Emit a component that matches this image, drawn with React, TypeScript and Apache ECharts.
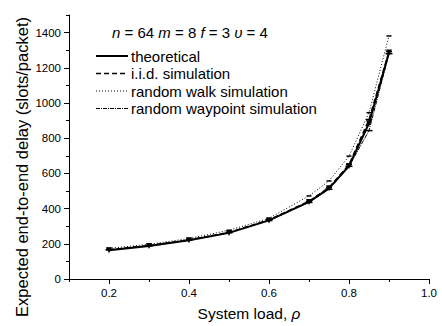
import React, { useEffect, useRef } from "react";
import * as echarts from "echarts";

const loads = [0.2, 0.3, 0.4, 0.5, 0.6, 0.7, 0.75, 0.8, 0.85, 0.9];
const theoretical = [164, 188, 220, 262, 333, 438, 515, 642, 885, 1287];
const iidSim = [166, 190, 222, 265, 336, 442, 520, 650, 906, 1292];
const randomWalkSim = [174, 197, 230, 277, 345, 472, 557, 698, 945, 1381];
const waypointSim = [166, 189, 221, 263, 332, 435, 510, 640, 843, 1280];
const seriesNames = [
  "theoretical",
  "i.i.d. simulation",
  "random walk simulation",
  "random waypoint simulation",
];
const xMajorTicks = [0.2, 0.4, 0.6, 0.8, 1.0];
const yMajorTicks = [0, 200, 400, 600, 800, 1000, 1200, 1400];

const FONT = "Liberation Sans, Arial, sans-serif";

const pairs = (ys: number[]) => loads.map((x, i) => [x, ys[i]]);

export default function App() {
  const ref = useRef<HTMLDivElement>(null);
  useEffect(() => {
    if (!ref.current) return;
    const chart = echarts.init(ref.current, undefined, { renderer: "svg" });
    const styles = [
      { width: 2, type: "solid" as any, symbol: "triangle", symbolSize: 6, symbolRotate: 180 },
      { width: 1.5, type: [5, 3] as any, symbol: "rect", symbolSize: [6, 1.5], symbolRotate: 0 },
      { width: 1, type: [1, 2] as any, symbol: "rect", symbolSize: [5, 1.5], symbolRotate: 0 },
      { width: 1, type: [4, 1, 1, 1] as any, symbol: "rect", symbolSize: [7, 1.5], symbolRotate: 0 },
    ];
    const datas = [theoretical, iidSim, randomWalkSim, waypointSim];
    const legendRowsY = [56, 73.5, 91, 108.5];
    const legendDash: any[] = [null, [5, 3], [1, 2], [4, 1, 1, 1]];
    const legendWidth = [2, 1.5, 1, 1];
    const graphics: any[] = [];
    seriesNames.forEach((name, i) => {
      graphics.push({
        type: "line",
        shape: { x1: 96, y1: legendRowsY[i], x2: 128, y2: legendRowsY[i] },
        style: { stroke: "#000", lineWidth: legendWidth[i], lineDash: legendDash[i] },
      });
      graphics.push({
        type: "text",
        x: 131,
        y: legendRowsY[i],
        style: {
          text: name,
          fontFamily: FONT,
          fontSize: 15,
          fill: "#000",
          verticalAlign: "middle",
          align: "left",
        },
      });
    });
    graphics.push({
      type: "text",
      x: 112,
      y: 32,
      style: {
        text: "{i|n} = 64 {i|m} = 8 {i|f} = 3 {i|υ} = 4",
        fontFamily: FONT,
        fontSize: 15,
        fill: "#000",
        verticalAlign: "middle",
        align: "left",
        rich: {
          i: { fontStyle: "italic", fontFamily: FONT, fontSize: 15, fill: "#000" },
        },
      },
    });
    graphics.push({
      type: "text",
      x: 22,
      y: 167,
      rotation: Math.PI / 2,
      style: {
        text: "Expected end-to-end delay (slots/packet)",
        fontFamily: FONT,
        fontSize: 16.5,
        fill: "#000",
        align: "center",
        verticalAlign: "middle",
      },
    });

    const axisCommon = {
      axisLine: { show: true, lineStyle: { color: "#000", width: 1 } },
      splitLine: { show: false },
    };

    chart.setOption({
      animation: false,
      backgroundColor: "#fff",
      grid: { left: 69, right: 13, top: 15, bottom: 46, containLabel: false },
      xAxis: [
        {
          type: "value",
          min: 0.1,
          max: 1.0,
          interval: 0.1,
          ...axisCommon,
          axisTick: { show: true, length: 3, lineStyle: { color: "#000" } },
          axisLabel: {
            color: "#000",
            fontFamily: FONT,
            fontSize: 11.5,
            margin: 8,
            formatter: (v: number) => {
              const r = Math.round(v * 10);
              return r % 2 === 0 ? (r / 10).toFixed(1) : "";
            },
          },
          name: "System load, {i|ρ}",
          nameLocation: "middle",
          nameGap: 26,
          nameTextStyle: {
            color: "#000",
            fontFamily: FONT,
            fontSize: 15.5,
            rich: { i: { fontStyle: "italic", fontFamily: FONT, fontSize: 15.5, color: "#000" } },
          },
        },
        {
          type: "value",
          min: 0.1,
          max: 1.0,
          position: "bottom",
          axisLine: { show: false },
          splitLine: { show: false },
          axisLabel: { show: false },
          axisTick: {
            show: true,
            length: 5,
            customValues: xMajorTicks,
            lineStyle: { color: "#000" },
          },
        },
      ],
      yAxis: [
        {
          type: "value",
          min: 0,
          max: 1500,
          interval: 100,
          ...axisCommon,
          axisTick: { show: true, length: 3, lineStyle: { color: "#000" } },
          axisLabel: {
            color: "#000",
            fontFamily: FONT,
            fontSize: 11.5,
            margin: 8,
            formatter: (v: number) => (v % 200 === 0 && v <= 1400 ? String(v) : ""),
          },
        },
        {
          type: "value",
          min: 0,
          max: 1500,
          position: "left",
          axisLine: { show: false },
          splitLine: { show: false },
          axisLabel: { show: false },
          axisTick: {
            show: true,
            length: 5,
            customValues: yMajorTicks,
            lineStyle: { color: "#000" },
          },
        },
      ],
      series: seriesNames.map((name, i) => ({
        name,
        type: "line",
        xAxisIndex: 0,
        yAxisIndex: 0,
        data: pairs(datas[i]),
        symbol: styles[i].symbol,
        symbolSize: styles[i].symbolSize,
        symbolRotate: styles[i].symbolRotate,
        showAllSymbol: true,
        itemStyle: { color: "#000" },
        lineStyle: { color: "#000", width: styles[i].width, type: styles[i].type },
        z: 4 - i,
      })),
      graphic: graphics,
    });
    return () => chart.dispose();
  }, []);
  return (
    <div
      ref={ref}
      style={{ position: "fixed", left: 0, top: 0, width: 442, height: 326, background: "#fff" }}
    />
  );
}
